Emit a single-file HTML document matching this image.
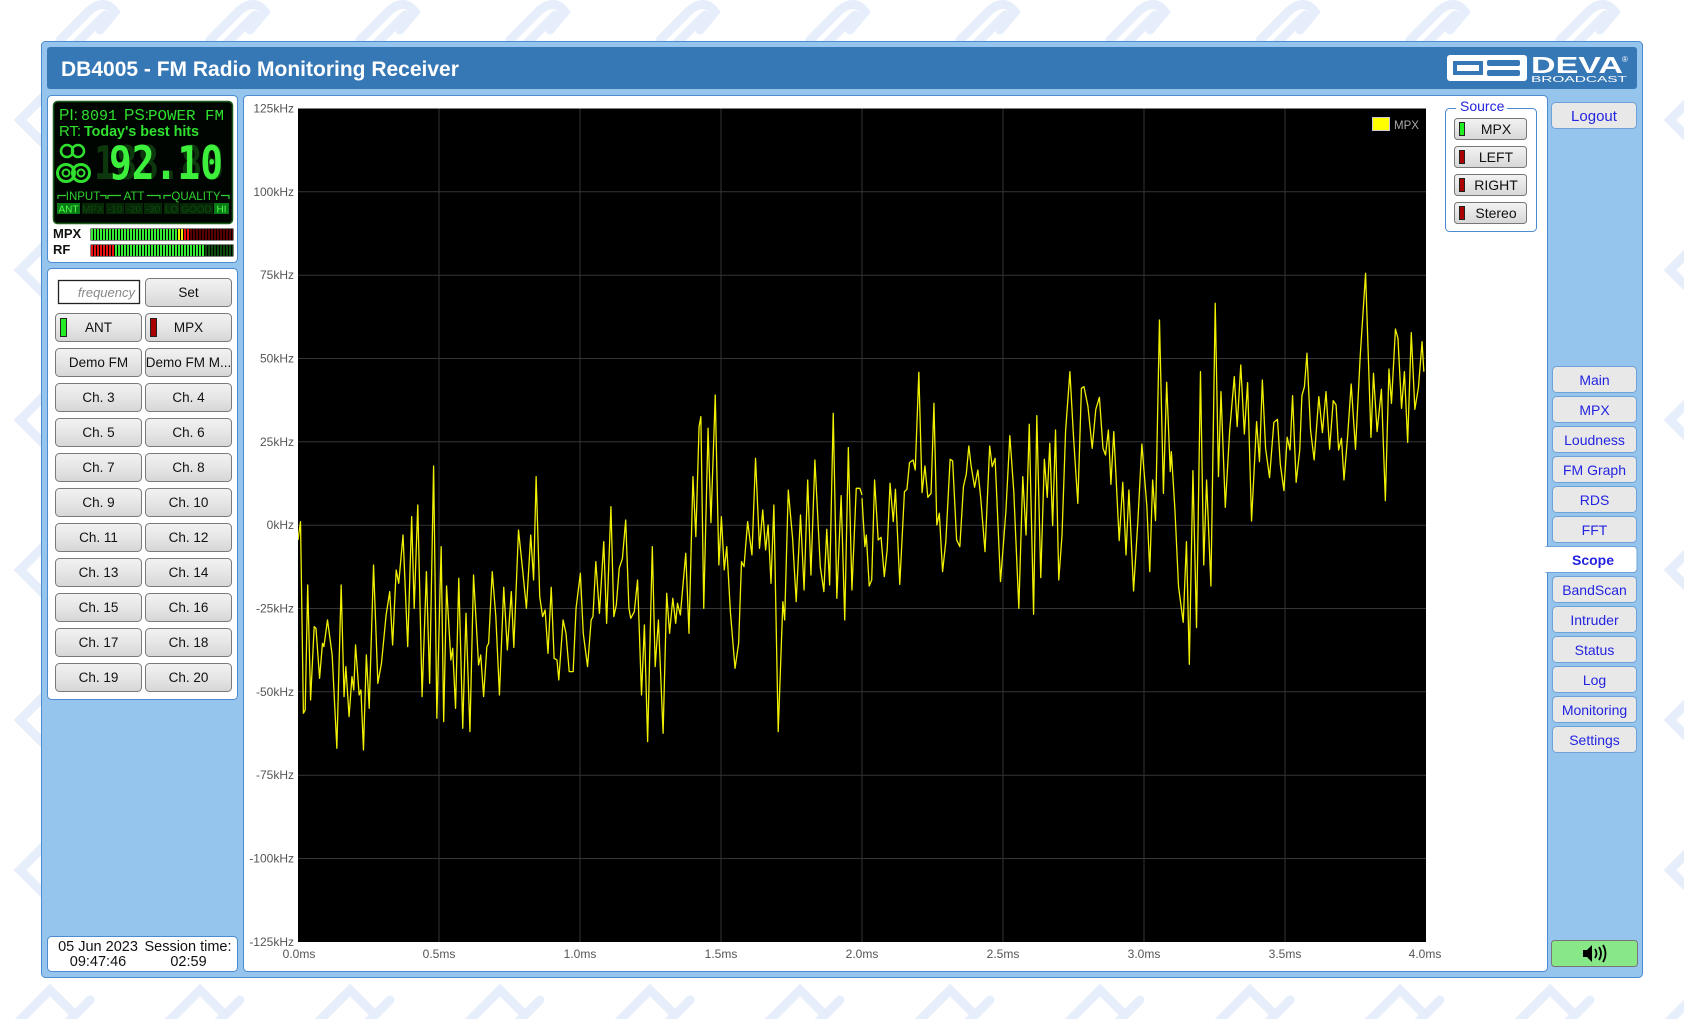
<!DOCTYPE html>
<html><head><meta charset="utf-8"><title>DB4005 Scope</title>
<style>
html,body{margin:0;padding:0;background:#fff;}
svg{display:block;}
</style></head>
<body>
<svg width="1684" height="1019" viewBox="0 0 1684 1019" xmlns="http://www.w3.org/2000/svg" font-family="'Liberation Sans', 'DejaVu Sans', sans-serif">
<defs>
  <linearGradient id="btn" x1="0" y1="0" x2="0" y2="1">
    <stop offset="0" stop-color="#f2f2f2"/><stop offset="0.5" stop-color="#e6e6e6"/><stop offset="1" stop-color="#d6d6d6"/>
  </linearGradient>
  <pattern id="wm" x="0" y="0" width="150" height="150" patternUnits="userSpaceOnUse">
    <g fill="none" stroke="#e6eefb" stroke-width="9" stroke-linecap="round">
      <path d="M60 40 L90 10 Q105 -2 115 12 L100 30"/>
      <path d="M75 45 L105 15"/>
      <path d="M20 120 L50 90 L75 115 L45 145 Z"/>
      <path d="M60 130 L90 100"/>
    </g>
  </pattern>
  <pattern id="gap" x="91" y="0" width="3" height="20" patternUnits="userSpaceOnUse">
    <rect x="2" y="0" width="1" height="20" fill="#000"/>
  </pattern>
  <clipPath id="plotclip"><rect x="298" y="108.5" width="1128" height="833.5"/></clipPath>
</defs>

<!-- background watermark -->
<rect x="0" y="0" width="1684" height="1019" fill="#fff"/>
<rect x="0" y="0" width="1684" height="1019" fill="url(#wm)"/>

<!-- outer panel -->
<rect x="41.5" y="41.5" width="1601" height="936" rx="4" fill="#95c4ec" stroke="#4a8bd2"/>
<!-- header -->
<rect x="47" y="47" width="1590" height="42" rx="3" fill="#3677b6"/>
<text x="61" y="76" font-size="21" font-weight="bold" fill="#fff">DB4005 - FM Radio Monitoring Receiver</text>

<!-- logo -->
<rect x="1447" y="55" width="80" height="26" rx="3" fill="#fff"/>
<rect x="1453" y="61" width="30" height="14" fill="#3677b6"/>
<rect x="1457" y="65" width="22" height="6" fill="#fff"/>
<rect x="1487" y="60" width="33" height="6" rx="2" fill="#3677b6"/>
<rect x="1487" y="70" width="33" height="6" rx="2" fill="#3677b6"/>
<text x="1531" y="73" font-size="23" font-weight="bold" fill="#fff" textLength="92" lengthAdjust="spacingAndGlyphs">DEVA</text>
<text x="1622" y="62" font-size="8" fill="#fff">®</text>
<text x="1531" y="82" font-size="8" fill="#fff" textLength="96" lengthAdjust="spacingAndGlyphs">BROADCAST</text>

<!-- LCD panel -->
<rect x="47.5" y="95.5" width="190" height="167" rx="4" fill="#fff" stroke="#4a8bd2"/>
<rect x="53.5" y="101.5" width="179" height="122" rx="4" fill="#010501" stroke="#1b5e1b" stroke-width="1.5"/>
<g fill="#2fe02f">
  <text x="59" y="120" font-size="15.5">PI:</text>
  <text x="81" y="120" font-size="15" font-family="'Liberation Mono', monospace" textLength="36" lengthAdjust="spacingAndGlyphs">8091</text>
  <text x="124" y="120" font-size="15.5">PS:</text>
  <text x="148" y="120" font-size="15" font-family="'Liberation Mono', monospace" textLength="76" lengthAdjust="spacingAndGlyphs">POWER  FM</text>
  <text x="59" y="136" font-size="15">RT:</text>
  <text x="84" y="136" font-size="15" font-weight="bold" textLength="115" lengthAdjust="spacingAndGlyphs">Today's best hits</text>
</g>
<!-- stereo / rds icons -->
<g fill="none" stroke="#2fe02f">
  <circle cx="67" cy="151" r="6" stroke-width="2.5"/>
  <circle cx="78" cy="151" r="6" stroke-width="2.5"/>
  <circle cx="66" cy="173" r="8.5" stroke-width="3"/>
  <circle cx="81" cy="173" r="8.5" stroke-width="3"/>
  <circle cx="66" cy="173" r="3.5" stroke-width="2"/>
  <circle cx="81" cy="173" r="3.5" stroke-width="2"/>
</g>
<!-- frequency digits -->
<text x="94" y="179" font-size="46" font-weight="bold" font-family="'DejaVu Sans Mono', 'Liberation Mono', monospace" fill="#0d380d" textLength="130" lengthAdjust="spacingAndGlyphs">188.88</text>
<text x="109" y="179" font-size="46" font-weight="bold" font-family="'DejaVu Sans Mono', 'Liberation Mono', monospace" fill="#3cf03c" textLength="114" lengthAdjust="spacingAndGlyphs">92.10</text>
<!-- indicator labels -->
<g stroke="#2fd02f" stroke-width="1.2" fill="none">
  <path d="M58 199 V195.5 H66"/><path d="M100 195.5 H106 V199"/>
  <path d="M108 199 V195.5 H121"/><path d="M147 195.5 H160 V199"/>
  <path d="M164 199 V195.5 H171"/><path d="M221 195.5 H229 V199"/>
</g>
<g font-size="11.5" fill="#2fd02f" text-anchor="middle">
  <text x="83" y="200">INPUT</text>
  <text x="134" y="200">ATT</text>
  <text x="196" y="200">QUALITY</text>
</g>
<g>
  <rect x="57" y="203" width="23" height="11" fill="#0a7a14"/>
  <rect x="82" y="203" width="22" height="11" fill="#062806"/>
  <rect x="106" y="203" width="18" height="11" fill="#062806"/>
  <rect x="125" y="203" width="18" height="11" fill="#062806"/>
  <rect x="144" y="203" width="18" height="11" fill="#062806"/>
  <rect x="164" y="203" width="15" height="11" fill="#062806"/>
  <rect x="180" y="203" width="33" height="11" fill="#062806"/>
  <rect x="214" y="203" width="15" height="11" fill="#0a7a14"/>
</g>
<g font-size="10" text-anchor="middle">
  <text x="68.5" y="212.5" fill="#4cff4c">ANT</text>
  <text x="93" y="212.5" fill="#0f4a0f">MPX</text>
  <text x="115" y="212.5" fill="#0f4a0f">-10</text>
  <text x="134" y="212.5" fill="#0f4a0f">-20</text>
  <text x="153" y="212.5" fill="#0f4a0f">-30</text>
  <text x="171.5" y="212.5" fill="#0f4a0f">LO</text>
  <text x="196.5" y="212.5" fill="#0f4a0f">GOOD</text>
  <text x="221.5" y="212.5" fill="#4cff4c">HI</text>
</g>
<!-- meters -->
<text x="53" y="238" font-size="13" font-weight="bold" fill="#111">MPX</text>
<text x="53" y="254" font-size="13" font-weight="bold" fill="#111">RF</text>
<rect x="90.5" y="228.5" width="143" height="12" fill="#000"/>
<rect x="91" y="229" width="87" height="11" fill="#33ee33"/>
<rect x="178" y="229" width="6" height="11" fill="#f0f000"/>
<rect x="184" y="229" width="6" height="11" fill="#ee1111"/>
<rect x="190" y="229" width="43" height="11" fill="#5a0000"/>
<rect x="91" y="229" width="142" height="11" fill="url(#gap)"/>
<rect x="90.5" y="244.5" width="143" height="12" fill="#000"/>
<rect x="91" y="245" width="24" height="11" fill="#ee1111"/>
<rect x="115" y="245" width="90" height="11" fill="#33ee33"/>
<rect x="205" y="245" width="28" height="11" fill="#0d4a0d"/>
<rect x="91" y="245" width="142" height="11" fill="url(#gap)"/>

<!-- control panel -->
<rect x="47.5" y="268.5" width="190" height="431" rx="4" fill="#fff" stroke="#4a8bd2"/>
<rect x="58.5" y="280.5" width="81" height="23" fill="#fff" stroke="#222" stroke-width="1.3"/>
<text x="135" y="297" font-size="13" font-style="italic" fill="#888" text-anchor="end">frequency</text>
<g stroke="#7a7a7a" fill="url(#btn)">
  <rect x="145.5" y="278.5" width="86" height="28" rx="4"/>
  <rect x="55.5" y="313.5" width="86" height="28" rx="4"/><rect x="145.5" y="313.5" width="86" height="28" rx="4"/>
  <rect x="55.5" y="348.5" width="86" height="28" rx="4"/><rect x="145.5" y="348.5" width="86" height="28" rx="4"/>
  <rect x="55.5" y="383.5" width="86" height="28" rx="4"/><rect x="145.5" y="383.5" width="86" height="28" rx="4"/>
  <rect x="55.5" y="418.5" width="86" height="28" rx="4"/><rect x="145.5" y="418.5" width="86" height="28" rx="4"/>
  <rect x="55.5" y="453.5" width="86" height="28" rx="4"/><rect x="145.5" y="453.5" width="86" height="28" rx="4"/>
  <rect x="55.5" y="488.5" width="86" height="28" rx="4"/><rect x="145.5" y="488.5" width="86" height="28" rx="4"/>
  <rect x="55.5" y="523.5" width="86" height="28" rx="4"/><rect x="145.5" y="523.5" width="86" height="28" rx="4"/>
  <rect x="55.5" y="558.5" width="86" height="28" rx="4"/><rect x="145.5" y="558.5" width="86" height="28" rx="4"/>
  <rect x="55.5" y="593.5" width="86" height="28" rx="4"/><rect x="145.5" y="593.5" width="86" height="28" rx="4"/>
  <rect x="55.5" y="628.5" width="86" height="28" rx="4"/><rect x="145.5" y="628.5" width="86" height="28" rx="4"/>
  <rect x="55.5" y="663.5" width="86" height="28" rx="4"/><rect x="145.5" y="663.5" width="86" height="28" rx="4"/>
</g>
<rect x="60.5" y="318.5" width="6" height="18" fill="#22ee22" stroke="#222"/>
<rect x="150.5" y="318.5" width="6" height="18" fill="#aa0000" stroke="#222"/>
<g font-size="13.5" fill="#111" text-anchor="middle">
  <text x="188.5" y="297">Set</text>
  <text x="98.5" y="332">ANT</text><text x="188.5" y="332">MPX</text>
  <text x="98.5" y="367">Demo FM</text><text x="188.5" y="367">Demo FM M...</text>
  <text x="98.5" y="402">Ch. 3</text><text x="188.5" y="402">Ch. 4</text>
  <text x="98.5" y="437">Ch. 5</text><text x="188.5" y="437">Ch. 6</text>
  <text x="98.5" y="472">Ch. 7</text><text x="188.5" y="472">Ch. 8</text>
  <text x="98.5" y="507">Ch. 9</text><text x="188.5" y="507">Ch. 10</text>
  <text x="98.5" y="542">Ch. 11</text><text x="188.5" y="542">Ch. 12</text>
  <text x="98.5" y="577">Ch. 13</text><text x="188.5" y="577">Ch. 14</text>
  <text x="98.5" y="612">Ch. 15</text><text x="188.5" y="612">Ch. 16</text>
  <text x="98.5" y="647">Ch. 17</text><text x="188.5" y="647">Ch. 18</text>
  <text x="98.5" y="682">Ch. 19</text><text x="188.5" y="682">Ch. 20</text>
</g>

<!-- date panel -->
<rect x="47.5" y="936.5" width="190" height="35" rx="4" fill="#fff" stroke="#4a8bd2"/>
<g font-size="14.5" fill="#111" text-anchor="middle">
  <text x="98" y="951">05 Jun 2023</text>
  <text x="188" y="951">Session time:</text>
  <text x="98" y="966">09:47:46</text>
  <text x="188.5" y="966">02:59</text>
</g>

<!-- chart panel -->
<rect x="243.5" y="95.5" width="1304" height="876" rx="4" fill="#fff" stroke="#4a8bd2"/>
<rect x="298" y="108.5" width="1128" height="833.5" fill="#000"/>
<g stroke="#353535" stroke-width="1">
  <line x1="298" y1="191.8" x2="1426" y2="191.8"/>
  <line x1="298" y1="275.2" x2="1426" y2="275.2"/>
  <line x1="298" y1="358.5" x2="1426" y2="358.5"/>
  <line x1="298" y1="441.8" x2="1426" y2="441.8"/>
  <line x1="298" y1="525.2" x2="1426" y2="525.2"/>
  <line x1="298" y1="608.5" x2="1426" y2="608.5"/>
  <line x1="298" y1="691.8" x2="1426" y2="691.8"/>
  <line x1="298" y1="775.2" x2="1426" y2="775.2"/>
  <line x1="298" y1="858.5" x2="1426" y2="858.5"/>
  <line x1="439" y1="108.5" x2="439" y2="942"/>
  <line x1="580" y1="108.5" x2="580" y2="942"/>
  <line x1="721" y1="108.5" x2="721" y2="942"/>
  <line x1="862" y1="108.5" x2="862" y2="942"/>
  <line x1="1003" y1="108.5" x2="1003" y2="942"/>
  <line x1="1144" y1="108.5" x2="1144" y2="942"/>
  <line x1="1285" y1="108.5" x2="1285" y2="942"/>
</g>
<g clip-path="url(#plotclip)" fill="none" stroke="#f0f000" stroke-width="1.3" stroke-linejoin="round">
<polyline vector-effect="non-scaling-stroke" transform="translate(298,250) scale(0.3597,0.3333)" points="0,870 7,815 15,1390 20,1380 27,1005 35,1350 45,1130 50,1135 60,1285 68,1180 72,1190 82,1110 95,1215 108,1495 120,1005 128,1340 133,1250 142,1400 150,1280 155,1320 160,1185 170,1335 175,1320 182,1500 190,1215 198,1375 210,945 222,1300 232,1240 245,1095 255,1025 263,1185 273,960 280,1000 292,855 305,1190 316,800 323,1075 333,765 345,1340 357,965 366,1300 377,648 386,1405 398,890 405,1415 413,1008 425,1230 430,1195 438,1375 447,985 458,1435 467,1090 478,1445 488,975 502,1245 508,1215 516,1340 525,1190 530,1180 540,965 550,1100 560,1335 572,1012 582,1200 593,1025 600,1192 613,840 625,965 635,1075 647,855 655,990 662,680 672,1040 680,1100 687,1080 695,1210 704,1012 712,1225 720,1230 725,1290 737,1110 745,1150 754,1265 765,1265 773,1075 785,970 793,1150 805,1250 815,1110 820,1100 828,935 838,1090 850,875 858,1120 870,770 878,1100 885,1065 893,955 902,925 911,810 920,1075 925,1105 935,1085 944,990 955,1335 963,1125 972,1475 985,890 993,1250 1002,1110 1015,1450 1025,1030 1033,1150 1042,1045 1050,1120 1055,1060 1063,1095 1078,910 1087,1150 1098,680 1106,860 1115,530 1120,500 1128,1075 1140,535 1148,818 1160,435 1170,945 1177,800 1185,960 1192,890 1202,1085 1215,1255 1225,1180 1233,935 1240,950 1250,815 1262,915 1272,625 1283,895 1292,780 1300,900 1307,825 1315,1000 1323,765 1335,1445 1348,1055 1353,1110 1363,720 1375,865 1385,1055 1397,795 1407,1020 1417,690 1426,975 1437,630 1452,950 1462,1025 1470,838 1478,1005 1488,490 1498,1045 1510,737 1520,1110 1530,593 1540,1020 1552,715 1562,715 1568,735"/>
<polyline vector-effect="non-scaling-stroke" transform="translate(862,250) scale(0.3597,0.3333)" points="0,745 8,890 12,855 20,1008 27,990 35,690 45,870 53,862 62,980 70,900 78,700 87,815 93,718 105,1003 118,725 125,718 132,638 142,630 148,660 158,367 167,728 175,648 183,742 192,730 200,460 208,825 215,790 224,965 233,875 245,628 252,633 263,870 272,890 282,710 290,672 297,588 303,645 313,712 322,660 330,743 342,905 355,588 362,650 370,625 385,995 400,785 411,557 422,725 436,1075 447,680 456,855 465,523 477,1093 486,497 497,983 507,628 515,742 522,580 530,827 538,540 547,990 556,857 566,543 578,365 588,560 600,760 610,415 617,410 628,468 640,595 650,478 660,442 670,595 677,615 685,540 692,703 700,545 715,872 725,697 734,915 742,720 755,1023 767,813 778,582 792,770 800,965 808,690 816,812 827,210 838,730 847,397 857,665 860,605 870,780 880,1010 893,1117 902,875 910,1243 920,662 930,1133 941,365 950,945 958,690 970,1008 982,160 991,680 998,425 1010,772 1022,545 1035,380 1043,530 1053,345 1063,552 1072,398 1083,813 1097,515 1105,635 1113,390 1122,595 1133,683 1145,517 1155,508 1163,643 1173,722 1182,562 1190,600 1197,437 1207,697 1217,600 1223,437 1230,410 1237,310 1247,540 1257,630 1270,440 1280,548 1290,425 1300,598 1310,452 1318,465 1325,600 1333,565 1340,690 1350,560 1360,402 1372,598 1385,320 1400,70 1415,562 1422,370 1432,545 1444,418 1455,752 1465,357 1472,460 1483,237 1490,265 1500,475 1508,365 1517,577 1527,248 1537,478 1547,412 1557,275 1562,365"/>
</g>
<!-- legend -->
<rect x="1372.5" y="117.5" width="17" height="13" fill="#ffff00" stroke="#cccccc"/>
<text x="1394" y="129" font-size="11.5" fill="#aaaaaa">MPX</text>
<!-- axis labels -->
<g font-size="12" fill="#555" text-anchor="end">
  <text x="294" y="112.5">125kHz</text>
  <text x="294" y="195.8">100kHz</text>
  <text x="294" y="279.2">75kHz</text>
  <text x="294" y="362.5">50kHz</text>
  <text x="294" y="445.8">25kHz</text>
  <text x="294" y="529.2">0kHz</text>
  <text x="294" y="612.5">-25kHz</text>
  <text x="294" y="695.8">-50kHz</text>
  <text x="294" y="779.2">-75kHz</text>
  <text x="294" y="862.5">-100kHz</text>
  <text x="294" y="945.8">-125kHz</text>
</g>
<g font-size="12" fill="#555" text-anchor="middle">
  <text x="299" y="958">0.0ms</text>
  <text x="439" y="958">0.5ms</text>
  <text x="580" y="958">1.0ms</text>
  <text x="721" y="958">1.5ms</text>
  <text x="862" y="958">2.0ms</text>
  <text x="1003" y="958">2.5ms</text>
  <text x="1144" y="958">3.0ms</text>
  <text x="1285" y="958">3.5ms</text>
  <text x="1425" y="958">4.0ms</text>
</g>

<!-- source fieldset -->
<rect x="1445.5" y="108.5" width="91" height="123" rx="4" fill="none" stroke="#4a8bd2"/>
<rect x="1456" y="100" width="51" height="14" fill="#fff"/>
<text x="1460" y="111" font-size="14" fill="#2424e0">Source</text>
<g stroke="#777" fill="url(#btn)">
  <rect x="1454.5" y="118.5" width="72" height="21" rx="3"/>
  <rect x="1454.5" y="146.5" width="72" height="21" rx="3"/>
  <rect x="1454.5" y="174.5" width="72" height="21" rx="3"/>
  <rect x="1454.5" y="202.5" width="72" height="21" rx="3"/>
</g>
<rect x="1459.5" y="122.5" width="5" height="13" fill="#22ee22" stroke="#222"/>
<rect x="1459.5" y="150.5" width="5" height="13" fill="#aa0000" stroke="#222"/>
<rect x="1459.5" y="178.5" width="5" height="13" fill="#aa0000" stroke="#222"/>
<rect x="1459.5" y="206.5" width="5" height="13" fill="#aa0000" stroke="#222"/>
<g font-size="14" fill="#111" text-anchor="middle">
  <text x="1496" y="134">MPX</text>
  <text x="1496" y="162">LEFT</text>
  <text x="1496" y="190">RIGHT</text>
  <text x="1496" y="218">Stereo</text>
</g>

<!-- right nav -->
<rect x="1551.5" y="102.5" width="85" height="26" rx="4" fill="#e8e8e8" stroke="#6fa2d8"/>
<text x="1594" y="121" font-size="15" fill="#2424e0" text-anchor="middle">Logout</text>
<g fill="#e8e8e8" stroke="#6fa2d8">
  <rect x="1552.5" y="366.5" width="84" height="26" rx="4"/>
  <rect x="1552.5" y="396.5" width="84" height="26" rx="4"/>
  <rect x="1552.5" y="426.5" width="84" height="26" rx="4"/>
  <rect x="1552.5" y="456.5" width="84" height="26" rx="4"/>
  <rect x="1552.5" y="486.5" width="84" height="26" rx="4"/>
  <rect x="1552.5" y="516.5" width="84" height="26" rx="4"/>
  <rect x="1552.5" y="576.5" width="84" height="26" rx="4"/>
  <rect x="1552.5" y="606.5" width="84" height="26" rx="4"/>
  <rect x="1552.5" y="636.5" width="84" height="26" rx="4"/>
  <rect x="1552.5" y="666.5" width="84" height="26" rx="4"/>
  <rect x="1552.5" y="696.5" width="84" height="26" rx="4"/>
  <rect x="1552.5" y="726.5" width="84" height="26" rx="4"/>
</g>
<path d="M1546 546.5 H1633 Q1637 546.5 1637 550.5 V568.5 Q1637 572.5 1633 572.5 H1546 Z" fill="#fff" stroke="#6fa2d8"/>
<rect x="1543" y="547" width="5" height="25" fill="#fff"/>
<g font-size="14" fill="#2424e0" text-anchor="middle">
  <text x="1594.5" y="385">Main</text>
  <text x="1594.5" y="415">MPX</text>
  <text x="1594.5" y="445">Loudness</text>
  <text x="1594.5" y="475">FM Graph</text>
  <text x="1594.5" y="505">RDS</text>
  <text x="1594.5" y="535">FFT</text>
  <text x="1593" y="565" font-weight="bold">Scope</text>
  <text x="1594.5" y="595">BandScan</text>
  <text x="1594.5" y="625">Intruder</text>
  <text x="1594.5" y="655">Status</text>
  <text x="1594.5" y="685">Log</text>
  <text x="1594.5" y="715">Monitoring</text>
  <text x="1594.5" y="745">Settings</text>
</g>
<!-- speaker button -->
<rect x="1551.5" y="940.5" width="86" height="26" rx="3" fill="#88e888" stroke="#777"/>
<path d="M1583 950 H1587 L1592 945 V962 L1587 957 H1583 Z" fill="#000"/>
<g fill="none" stroke="#000" stroke-width="1.8">
  <path d="M1595 949 Q1598 953.5 1595 958"/>
  <path d="M1599 947 Q1603 953.5 1599 960"/>
  <path d="M1603 945 Q1608 953.5 1603 962"/>
</g>
</svg>
</body></html>
